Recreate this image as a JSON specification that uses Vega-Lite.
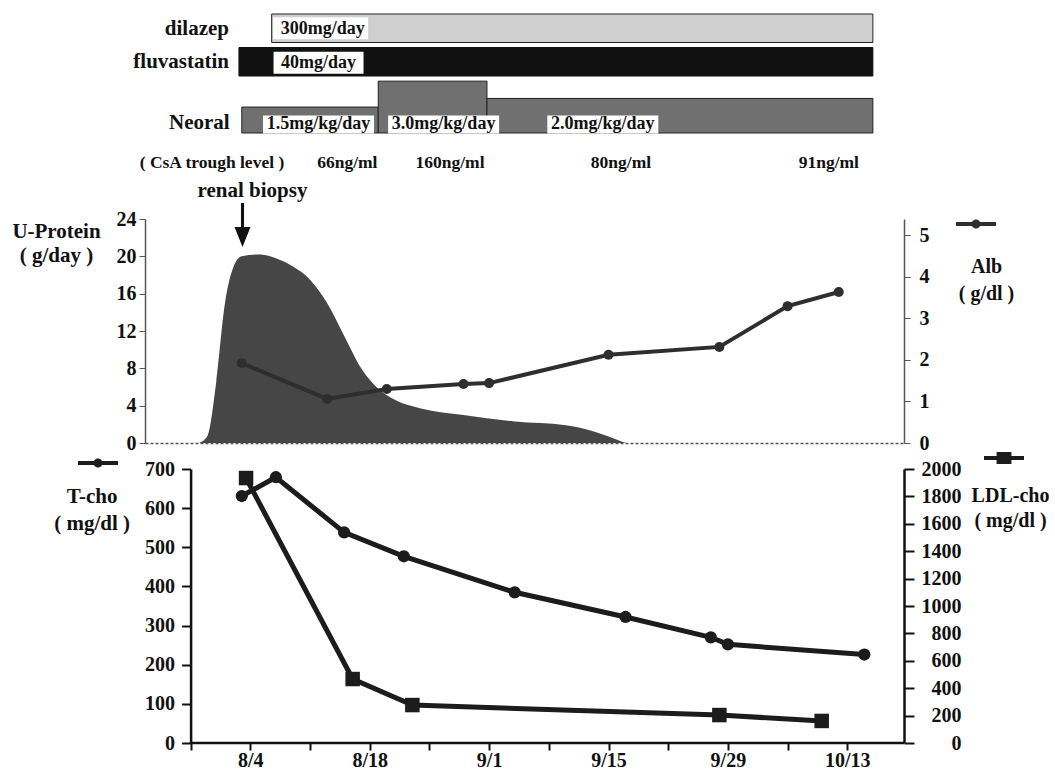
{
  "$schema": "https://vega.github.io/schema/vega-lite/v6.json",
  "padding": {"left": 11, "top": 12, "right": 0, "bottom": 0},
  "background": "white",
  "spacing": 26,
  "bounds": "flush",
  "config": {
    "view": {"stroke": null},
    "font": "Liberation Serif",
    "axis": {"labelFont": "Liberation Serif", "labelFontWeight": "bold", "titleFont": "Liberation Serif", "titleFontWeight": "bold", "labelColor": "#111", "titleColor": "#111", "domainColor": "#111", "tickColor": "#111", "grid": false, "labelOverlap": false, "labelFlush": false}
  },
  "resolve": {"scale": {"x": "independent", "stroke": "independent", "color": "independent"}, "legend": {"stroke": "independent", "color": "independent"}},
  "vconcat": [
    {
      "width": 759, "height": 181,
      "encoding": {"x": {"field": "date", "type": "temporal", "axis": null, "scale": {"type": "utc", "domain": [{"year": 1998, "month": 7, "date": 22, "hours": 15, "minutes": 36, "utc": true}, {"year": 1998, "month": 10, "date": 19, "hours": 15, "minutes": 36, "utc": true}]}}},
      "layer": [
        {
          "data": {"values": [{"dose": 1.5, "date": "1998-08-03T00:00:00Z", "end": "1998-08-19T00:00:00Z"}, {"dose": 3.0, "date": "1998-08-19T00:00:00Z", "end": "1998-08-31T18:00:00Z"}, {"dose": 2.0, "date": "1998-08-31T18:00:00Z", "end": "1998-10-16T00:00:00Z"}]},
          "mark": {"type": "rect", "fill": "#707070", "stroke": "#222", "strokeWidth": 1},
          "encoding": {"x2": {"field": "end"}, "y": {"field": "dose", "type": "quantitative", "axis": null, "scale": {"domain": [0, 7], "range": [121, 0], "nice": false}}, "y2": {"datum": 0}}
        },
        {
          "encoding": {"y": {"field": "row", "type": "nominal", "axis": null, "scale": {"domain": ["dilazep", "fluvastatin", "Neoral", "CsA"], "range": [2, 131], "paddingInner": 0.149, "paddingOuter": 0}}},
          "layer": [
            {"data": {"values": [{"row": "dilazep", "date": "1998-08-06T12:00:00Z", "end": "1998-10-16T00:00:00Z"}]},
             "mark": {"type": "bar", "fill": "#cfcfcf", "stroke": "#222", "strokeWidth": 1},
             "encoding": {"x2": {"field": "end"}}},
            {"data": {"values": [{"row": "fluvastatin", "date": "1998-08-02T16:00:00Z", "end": "1998-10-16T00:00:00Z"}]},
             "mark": {"type": "bar", "fill": "#111111", "stroke": "#111", "strokeWidth": 1},
             "encoding": {"x2": {"field": "end"}}},
            {"data": {"values": [{"row": "dilazep", "date": "1998-08-12T06:00:00Z"}]},
             "mark": {"type": "point", "shape": "M-1,-0.2316L1,-0.2316L1,0.2316L-1,0.2316Z", "size": 9025, "filled": true, "color": "white", "opacity": 1, "strokeWidth": 0}},
            {"data": {"values": [{"row": "fluvastatin", "date": "1998-08-12T00:00:00Z"}]},
             "mark": {"type": "point", "shape": "M-1,-0.2444L1,-0.2444L1,0.2444L-1,0.2444Z", "size": 8100, "filled": true, "color": "white", "opacity": 1, "strokeWidth": 0},
             "encoding": {"yOffset": {"value": 15.25}}},
            {"data": {"values": [{"row": "Neoral", "date": "1998-08-12T00:00:00Z"}, {"row": "Neoral", "date": "1998-08-26T16:00:00Z"}, {"row": "Neoral", "date": "1998-09-14T08:00:00Z"}]},
             "mark": {"type": "point", "shape": "M-1,-0.162L1,-0.162L1,0.162L-1,0.162Z", "size": 12321, "filled": true, "color": "white", "opacity": 1, "strokeWidth": 0},
             "encoding": {"yOffset": {"value": 43.5}}},
            {"data": {"values": [{"row": "dilazep", "date": "1998-08-12T12:00:00Z", "label": "300mg/day"}, {"row": "fluvastatin", "date": "1998-08-12T00:00:00Z", "label": "40mg/day"}]},
             "mark": {"type": "text", "font": "Liberation Serif", "fontWeight": "bold", "fontSize": 18, "color": "#111", "baseline": "middle", "align": "center", "dy": 1},
             "encoding": {"text": {"field": "label"}}},
            {"data": {"values": [{"row": "Neoral", "date": "1998-08-12T00:00:00Z", "label": "1.5mg/kg/day"}, {"row": "Neoral", "date": "1998-08-26T16:00:00Z", "label": "3.0mg/kg/day"}, {"row": "Neoral", "date": "1998-09-14T08:00:00Z", "label": "2.0mg/kg/day"}]},
             "mark": {"type": "text", "font": "Liberation Serif", "fontWeight": "bold", "fontSize": 18, "color": "#111", "baseline": "middle", "align": "center", "dy": 29.25},
             "encoding": {"text": {"field": "label"}}},
            {"data": {"values": [{"row": "dilazep", "label": "dilazep", "date": "1998-08-01T12:00:00Z"}, {"row": "fluvastatin", "label": "fluvastatin", "date": "1998-08-01T12:00:00Z"}]},
             "mark": {"type": "text", "font": "Liberation Serif", "fontWeight": "bold", "fontSize": 21, "color": "#111", "baseline": "middle", "align": "right", "dy": 0.5},
             "encoding": {"text": {"field": "label"}}},
            {"data": {"values": [{"row": "Neoral", "label": "Neoral", "date": "1998-08-01T14:00:00Z"}]},
             "mark": {"type": "text", "font": "Liberation Serif", "fontWeight": "bold", "fontSize": 21, "color": "#111", "baseline": "middle", "align": "right", "dy": 27.75},
             "encoding": {"text": {"field": "label"}}},
            {"data": {"values": [{"row": "CsA", "label": "( CsA trough level )", "date": "1998-07-30T12:00:00Z"}, {"row": "CsA", "date": "1998-08-15T09:00:00Z", "label": "66ng/ml"}, {"row": "CsA", "date": "1998-08-27T10:00:00Z", "label": "160ng/ml"}, {"row": "CsA", "date": "1998-09-16T11:00:00Z", "label": "80ng/ml"}, {"row": "CsA", "date": "1998-10-10T20:00:00Z", "label": "91ng/ml"}]},
             "mark": {"type": "text", "font": "Liberation Serif", "fontWeight": "bold", "fontSize": 17.5, "color": "#111", "baseline": "middle", "align": "center", "dy": 34.25},
             "encoding": {"text": {"field": "label"}}},
            {"data": {"values": [{"row": "CsA", "event": "renal biopsy", "date": "1998-08-03T02:00:00Z"}]},
             "mark": {"type": "point", "shape": "M-0.07,-1L0.07,-1L0.07,0.09L0.364,0.09L0,1L-0.364,0.09L-0.07,0.09Z", "size": 1936, "filled": true, "color": "#111", "opacity": 1, "strokeWidth": 0},
             "encoding": {"yOffset": {"value": 110.5}}},
            {"data": {"values": [{"row": "CsA", "event": "renal biopsy", "date": "1998-08-03T02:00:00Z"}]},
             "mark": {"type": "text", "font": "Liberation Serif", "fontWeight": "bold", "fontSize": 21, "color": "#111", "baseline": "middle", "align": "center", "dx": 10, "dy": 62.25},
             "encoding": {"text": {"field": "event"}}}
          ]
        }
      ],
      "resolve": {"scale": {"y": "independent"}}
    },
    {
      "width": 759, "height": 224,
      "encoding": {"x": {"field": "date", "type": "temporal", "scale": {"type": "utc", "domain": [{"year": 1998, "month": 7, "date": 22, "hours": 15, "minutes": 36, "utc": true}, {"year": 1998, "month": 10, "date": 19, "hours": 15, "minutes": 36, "utc": true}]}, "axis": {"domain": true, "domainDash": [3, 2], "domainColor": "#555", "domainWidth": 1.5, "ticks": false, "labels": false, "title": null}}},
      "layer": [
        {
          "data": {"values": [
            {"date": "1998-07-29", "protein": 0}, {"date": "1998-07-30", "protein": 0.8}, {"date": "1998-07-31", "protein": 6.5}, {"date": "1998-08-01", "protein": 14.8}, {"date": "1998-08-02", "protein": 18.8}, {"date": "1998-08-03", "protein": 20.0}, {"date": "1998-08-05", "protein": 20.2}, {"date": "1998-08-07", "protein": 19.8}, {"date": "1998-08-09", "protein": 18.9}, {"date": "1998-08-11", "protein": 17.5}, {"date": "1998-08-13", "protein": 15.0}, {"date": "1998-08-15", "protein": 11.5}, {"date": "1998-08-17", "protein": 8.0}, {"date": "1998-08-19", "protein": 5.8}, {"date": "1998-08-21", "protein": 4.6}, {"date": "1998-08-24", "protein": 3.7}, {"date": "1998-08-29", "protein": 3.0}, {"date": "1998-09-04", "protein": 2.3}, {"date": "1998-09-10", "protein": 1.9}, {"date": "1998-09-13", "protein": 1.3}, {"date": "1998-09-15", "protein": 0.7}, {"date": "1998-09-17", "protein": 0}
          ]},
          "mark": {"type": "area", "interpolate": "monotone", "color": "#464646", "opacity": 1},
          "encoding": {"y": {"field": "protein", "type": "quantitative", "scale": {"domain": [0, 24], "nice": false}, "axis": {"values": [0, 4, 8, 12, 16, 20, 24], "format": "d", "tickSize": 6, "labelPadding": 3, "labelFontSize": 20, "domainColor": "#555", "domainWidth": 1.5, "tickColor": "#555", "title": ["U-Protein", "( g/day )"], "titleAngle": 0, "titleAlign": "center", "titleBaseline": "middle", "titleX": -89, "titleY": 12, "titleFontSize": 21, "titleLineHeight": 24}}}
        },
        {
          "data": {"values": [
            {"date": "1998-08-03", "alb": 1.92}, {"date": "1998-08-13", "alb": 1.06}, {"date": "1998-08-20", "alb": 1.30}, {"date": "1998-08-29", "alb": 1.42}, {"date": "1998-09-01", "alb": 1.44}, {"date": "1998-09-15", "alb": 2.12}, {"date": "1998-09-28", "alb": 2.31}, {"date": "1998-10-06", "alb": 3.29}, {"date": "1998-10-12", "alb": 3.63}
          ]},
          "encoding": {"y": {"field": "alb", "type": "quantitative", "scale": {"domain": [0, 5.385], "nice": false}, "axis": {"orient": "right", "values": [0, 1, 2, 3, 4, 5], "format": "d", "tickSize": 6, "labelPadding": 9, "labelFontSize": 20, "domainColor": "#555", "domainWidth": 1.5, "tickColor": "#555", "title": ["Alb", "( g/dl )"], "titleAngle": 0, "titleAlign": "center", "titleBaseline": "middle", "titleX": 82, "titleY": 47.5, "titleFontSize": 20, "titleLineHeight": 27}}},
          "layer": [
            {"mark": {"type": "line", "strokeWidth": 4},
             "encoding": {"stroke": {"datum": "Alb", "scale": {"range": ["#2e2e2e"]}, "legend": {"orient": "none", "legendX": 809, "legendY": -17, "title": null, "labelExpr": "''", "padding": 0, "symbolType": "M-1,0L1,0M-0.125,0A0.125,0.125 0 1,1 0.125,0A0.125,0.125 0 1,1 -0.125,0Z", "symbolSize": 1600, "symbolStrokeWidth": 4}}}},
            {"mark": {"type": "circle", "size": 100, "color": "#2e2e2e", "opacity": 1}}
          ]
        }
      ],
      "resolve": {"scale": {"y": "independent"}}
    },
    {
      "width": 759, "height": 274,
      "encoding": {"x": {"field": "date", "type": "temporal", "scale": {"type": "utc", "domain": [{"year": 1998, "month": 7, "date": 22, "hours": 15, "minutes": 36, "utc": true}, {"year": 1998, "month": 10, "date": 19, "hours": 15, "minutes": 36, "utc": true}]}, "axis": {"domain": false, "values": [{"year": 1998, "month": 7, "date": 28, "utc": true}, {"year": 1998, "month": 8, "date": 4, "utc": true}, {"year": 1998, "month": 8, "date": 11, "utc": true}, {"year": 1998, "month": 8, "date": 18, "utc": true}, {"year": 1998, "month": 8, "date": 25, "utc": true}, {"year": 1998, "month": 9, "date": 1, "utc": true}, {"year": 1998, "month": 9, "date": 8, "utc": true}, {"year": 1998, "month": 9, "date": 15, "utc": true}, {"year": 1998, "month": 9, "date": 22, "utc": true}, {"year": 1998, "month": 9, "date": 29, "utc": true}, {"year": 1998, "month": 10, "date": 6, "utc": true}, {"year": 1998, "month": 10, "date": 13, "utc": true}], "labelExpr": "indexof(['8/4','8/18','9/1','9/15','9/29','10/13'], utcFormat(datum.value, '%-m/%-d')) >= 0 ? utcFormat(datum.value, '%-m/%-d') : ''", "tickSize": 7, "tickWidth": 2, "labelPadding": 0, "labelFontSize": 20, "title": null}}},
      "layer": [
        {
          "encoding": {"y": {"field": "tcho", "type": "quantitative", "scale": {"domain": [0, 700], "nice": false}, "axis": {"offset": -45.6, "values": [0, 100, 200, 300, 400, 500, 600, 700], "format": "d", "tickSize": 9, "tickWidth": 2, "labelPadding": 7, "domainWidth": 2.5, "labelFontSize": 20, "title": ["T-cho", "( mg/dl )"], "titleAngle": 0, "titleAlign": "center", "titleBaseline": "middle", "titleX": -99, "titleY": 27.5, "titleFontSize": 21, "titleLineHeight": 27}}},
          "layer": [
            {"data": {"values": [{"date": "1998-07-28T00:00:00Z", "end": "1998-10-19T15:36:00Z", "tcho": 0}]},
             "mark": {"type": "rule", "strokeWidth": 2.5, "color": "#111"},
             "encoding": {"x2": {"field": "end"}}},
            {"data": {"values": [
              {"date": "1998-08-03", "tcho": 631}, {"date": "1998-08-07", "tcho": 679}, {"date": "1998-08-15", "tcho": 538}, {"date": "1998-08-22", "tcho": 477}, {"date": "1998-09-04", "tcho": 385}, {"date": "1998-09-17", "tcho": 322}, {"date": "1998-09-27", "tcho": 270}, {"date": "1998-09-29", "tcho": 252}, {"date": "1998-10-15", "tcho": 226}
            ]},
             "layer": [
               {"mark": {"type": "line", "strokeWidth": 5},
                "encoding": {"stroke": {"datum": "T-cho", "scale": {"range": ["#1c1c1c"]}, "legend": {"orient": "none", "legendX": -69, "legendY": -28, "title": null, "labelExpr": "''", "padding": 0, "symbolType": "M-1,0L1,0M-0.125,0A0.125,0.125 0 1,1 0.125,0A0.125,0.125 0 1,1 -0.125,0Z", "symbolSize": 1600, "symbolStrokeWidth": 4}}}},
               {"mark": {"type": "circle", "size": 150, "color": "#1c1c1c", "opacity": 1}}
             ]}
          ]
        },
        {
          "data": {"values": [
            {"date": "1998-08-03T12:00:00Z", "ldl": 1934}, {"date": "1998-08-16", "ldl": 467}, {"date": "1998-08-23", "ldl": 277}, {"date": "1998-09-28", "ldl": 204}, {"date": "1998-10-10", "ldl": 161}
          ]},
          "encoding": {"y": {"field": "ldl", "type": "quantitative", "scale": {"domain": [0, 2000], "nice": false}, "axis": {"orient": "right", "values": [0, 200, 400, 600, 800, 1000, 1200, 1400, 1600, 1800, 2000], "format": "d", "tickSize": 10, "tickWidth": 2, "labelPadding": 47, "labelAlign": "right", "domainWidth": 2.5, "labelFontSize": 20, "title": ["LDL-cho", "( mg/dl )"], "titleAngle": 0, "titleAlign": "center", "titleBaseline": "middle", "titleX": 106, "titleY": 26.5, "titleFontSize": 20, "titleLineHeight": 25}}},
          "layer": [
            {"mark": {"type": "line", "strokeWidth": 5},
             "encoding": {"color": {"datum": "LDL-cho", "scale": {"range": ["#1c1c1c"]}, "legend": {"orient": "none", "legendX": 837, "legendY": -33, "title": null, "labelExpr": "''", "padding": 0, "symbolType": "M-1,0L1,0M-0.37,-0.2L0.37,-0.2M-0.37,-0.1L0.37,-0.1M-0.37,0L0.37,0M-0.37,0.1L0.37,0.1M-0.37,0.2L0.37,0.2", "symbolSize": 1600, "symbolStrokeWidth": 4}}}},
            {"mark": {"type": "square", "size": 210, "color": "#1c1c1c", "opacity": 1}}
          ]
        }
      ],
      "resolve": {"scale": {"y": "independent"}}
    }
  ]
}
